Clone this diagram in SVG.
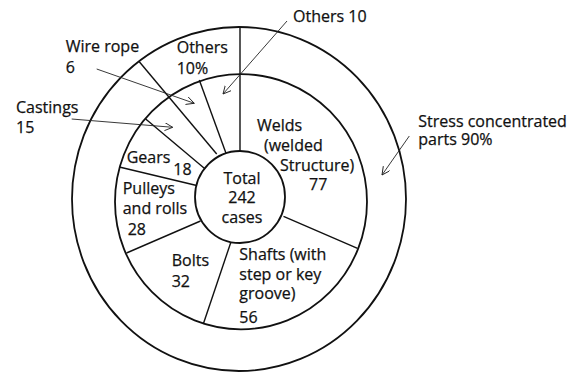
<svg xmlns="http://www.w3.org/2000/svg" width="585" height="373" viewBox="0 0 585 373">
<defs>
<style>
.ring{fill:none;stroke:#111;stroke-width:1.8}
.div{stroke:#111;stroke-width:1.4;fill:none}
.arr{stroke:#222;stroke-width:0.9;fill:none;marker-end:url(#ah)}
text{font-family:"Open Sans","Noto Sans","Liberation Sans",sans-serif;font-size:16px;fill:#111;stroke:#111;stroke-width:0.25}
.c{text-anchor:middle}
</style>
<marker id="ah" markerUnits="userSpaceOnUse" markerWidth="10" markerHeight="10" refX="8" refY="4" orient="auto">
<path d="M0,0 L8,4 L0,8" fill="none" stroke="#222" stroke-width="0.9"/>
</marker>
</defs>
<rect width="585" height="373" fill="#fff"/>
<g id="rings">
<ellipse class="ring" cx="239" cy="199" rx="167" ry="172"/>
<ellipse class="ring" cx="241" cy="201.7" rx="126" ry="127.6"/>
<ellipse class="ring" cx="240" cy="197" rx="45" ry="46"/>
</g>
<g id="dividers">
<line class="div" x1="240" y1="27.5" x2="240" y2="151"/>
<line class="div" x1="139.3" y1="61.7" x2="216.7" y2="154"/>
<line class="div" x1="199.3" y1="80" x2="226" y2="153.3"/>
<line class="div" x1="145.7" y1="119" x2="204.3" y2="168.3"/>
<line class="div" x1="119.3" y1="167" x2="196.7" y2="185.5"/>
<line class="div" x1="126.5" y1="253" x2="200.5" y2="221"/>
<line class="div" x1="230.7" y1="242.7" x2="203.3" y2="324"/>
<line class="div" x1="283.5" y1="216.3" x2="357.5" y2="248.3"/>
</g>
<g id="center"><text class="c"><tspan x="242" y="184">Total</tspan><tspan x="242" y="203.3">242</tspan><tspan x="242" y="222.7">cases</tspan></text></g>
<g id="others-outer"><text><tspan x="176.7" y="53.3">Others</tspan><tspan x="176.7" y="74">10%</tspan></text></g>
<g id="stress"><text><tspan x="418.3" y="126.5">Stress concentrated</tspan><tspan x="418.3" y="144.5">parts 90%</tspan></text></g>
<g id="others-inner"><text x="293" y="21.5">Others 10</text></g>
<g id="wire-rope"><text><tspan x="65.7" y="52.3">Wire rope</tspan><tspan x="65.7" y="73.3">6</tspan></text></g>
<g id="castings"><text><tspan x="16" y="113.3">Castings</tspan><tspan x="16" y="133.3">15</tspan></text></g>
<g id="welds"><text><tspan x="257" y="131">Welds</tspan><tspan x="264" y="150.5">(welded</tspan><tspan x="280" y="170.5">Structure)</tspan><tspan x="309" y="189.5">77</tspan></text></g>
<g id="gears"><text><tspan x="126.7" y="162.7">Gears</tspan><tspan x="173.3" y="175">18</tspan></text></g>
<g id="pulleys"><text><tspan x="122.7" y="194">Pulleys</tspan><tspan x="122.7" y="214">and rolls</tspan><tspan x="127.7" y="235">28</tspan></text></g>
<g id="bolts"><text><tspan x="171.7" y="266">Bolts</tspan><tspan x="171.7" y="286.7">32</tspan></text></g>
<g id="shafts"><text><tspan x="239.3" y="260">Shafts (with</tspan><tspan x="239.3" y="280">step or key</tspan><tspan x="239.3" y="299">groove)</tspan><tspan x="239.3" y="323">56</tspan></text></g>
<g id="connectors">
<line class="arr" x1="287" y1="21" x2="223" y2="94"/>
<line class="arr" x1="96.7" y1="69" x2="194.3" y2="103.3"/>
<line class="arr" x1="71.7" y1="119" x2="172.7" y2="127.3"/>
<line class="arr" x1="409.3" y1="136" x2="382" y2="175"/>
</g>
</svg>
